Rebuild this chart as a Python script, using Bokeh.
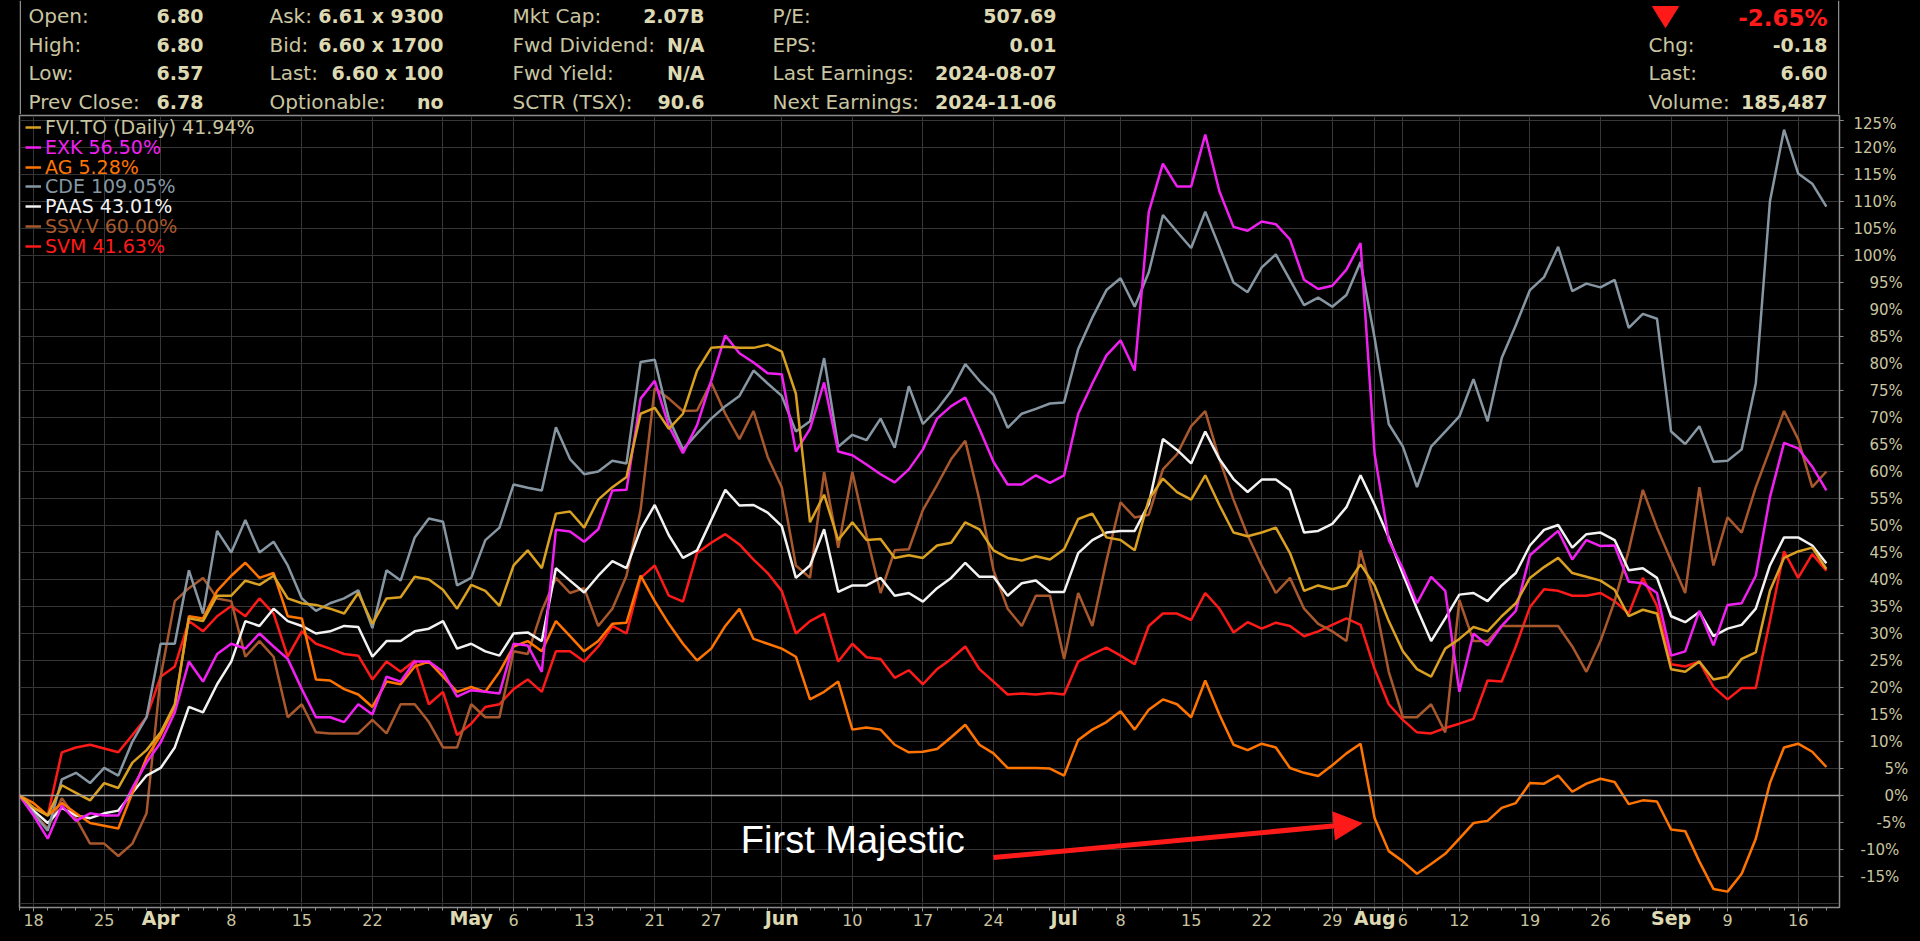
from bokeh.plotting import figure
from bokeh.layouts import column
from bokeh.models import (Range1d, LinearAxis, FixedTicker, Span, Label, Legend, LegendItem,
                          Arrow, NormalHead, GlobalInlineStyleSheet)
from bokeh.core.properties import value
from bokeh.embed import file_html
from bokeh.resources import INLINE

# ---------------- data (trading-day index 0 = Mar 15, 2024 ... 128 = Sep 18, 2024) -------------
day_index = list(range(129))

fvi = [0, -2.3, -3.7, 1.9, 0.5, -0.9, 2.3, 1.4, 6.1, 8.4, 11.7, 16.9, 32.8, 32.3, 37.0, 37.0, 39.8, 39.0,
       40.7, 36.5, 35.6, 35.3, 34.6, 33.7, 37.5, 31.8, 36.5, 36.7, 40.5, 40.0, 38.1, 34.6, 39.0, 37.9,
       35.1, 42.6, 45.4, 42.1, 52.2, 52.6, 49.6, 54.8, 57.1, 59.0, 70.7, 71.8, 67.9, 70.7, 78.7, 82.9,
       83.1, 82.9, 82.9, 83.5, 82.2, 74.4, 50.6, 55.7, 47.3, 50.6, 47.3, 47.5, 44.0, 44.5, 44.0, 46.3,
       46.8, 50.6, 49.3, 45.4, 44.0, 43.5, 44.3, 43.7, 45.6, 51.2, 52.2, 47.8, 47.3, 45.4, 54.8, 58.7,
       56.2, 54.8, 59.3, 53.8, 48.7, 48.0, 48.7, 49.6, 44.9, 37.9, 38.9, 38.2, 38.9, 42.8, 38.9, 32.3,
       26.7, 23.4, 22.0, 27.2, 29.0, 31.2, 30.4, 33.2, 35.6, 40.3, 42.3, 44.0, 41.2, 40.5, 39.8, 38.1,
       33.2, 34.4, 33.7, 23.4, 22.9, 24.8, 21.5, 22.0, 25.3, 26.5, 37.9, 44.0, 45.2, 45.9, 41.94]

exk = [0, -3.7, -8.0, -1.9, -4.7, -3.3, -3.7, -3.7, 1.4, 6.1, 9.8, 15.4, 24.8, 21.1, 26.2, 28.1, 27.2,
       30.0, 27.6, 25.3, 19.7, 14.5, 14.5, 13.6, 16.9, 15.0, 22.0, 21.1, 24.8, 24.8, 22.9, 18.3, 19.5,
       19.2, 18.9, 28.1, 27.8, 22.9, 49.2, 48.9, 47.0, 49.3, 56.5, 56.6, 73.5, 76.8, 68.4, 63.4, 68.6,
       76.8, 85.2, 81.9, 80.2, 78.2, 78.0, 63.7, 67.9, 76.5, 63.7, 63.0, 61.3, 59.5, 58.0, 60.4, 64.1,
       69.8, 72.1, 73.7, 67.9, 61.8, 57.6, 57.6, 59.3, 57.9, 59.3, 70.7, 76.3, 81.5, 84.3, 78.7, 108.1,
       117.0, 112.8, 112.8, 122.4, 111.9, 105.3, 104.6, 106.3, 105.8, 103.0, 95.5, 93.8, 94.4, 97.4,
       102.3, 63.2, 47.3, 42.0, 35.6, 40.5, 37.9, 19.2, 30.0, 27.8, 31.4, 34.2, 44.5, 46.8, 49.0, 43.7,
       47.3, 46.2, 46.3, 39.6, 39.3, 37.5, 25.9, 26.7, 34.2, 27.8, 35.3, 35.6, 40.7, 55.2, 65.3, 64.3,
       60.9, 56.5]

ag = [0, -1.4, -3.7, -1.4, -3.3, -5.1, -5.6, -6.1, 0.5, 7.0, 11.2, 16.4, 33.2, 32.8, 37.9, 40.7, 43.1,
      40.3, 41.2, 33.2, 32.8, 21.5, 21.3, 19.7, 18.7, 16.4, 21.1, 20.6, 23.9, 24.8, 22.0, 19.2, 20.1,
      19.2, 22.9, 27.6, 28.6, 26.7, 32.3, 29.5, 26.7, 28.6, 31.8, 32.0, 40.7, 36.0, 31.8, 28.1, 25.0,
      27.2, 31.4, 34.6, 29.0, 28.1, 27.2, 25.7, 17.8, 19.2, 21.1, 12.2, 12.6, 12.2, 9.4, 8.0, 8.1, 8.6,
      10.8, 13.1, 9.4, 7.8, 5.1, 5.1, 5.1, 5.0, 3.7, 10.3, 12.2, 13.6, 15.6, 12.2, 15.9, 17.8, 16.9,
      14.5, 21.3, 15.0, 9.4, 8.4, 9.6, 8.9, 5.1, 4.2, 3.6, 5.6, 7.8, 9.6, -4.2, -10.3, -12.2, -14.5,
      -12.7, -10.8, -8.0, -5.1, -4.7, -2.3, -1.4, 2.3, 2.2, 3.7, 0.7, 2.2, 3.1, 2.5, -1.6, -0.9, -1.1,
      -6.3, -6.6, -12.2, -17.3, -17.8, -14.5, -8.0, 2.3, 8.9, 9.6, 8.1, 5.28]

cde = [0, -3.3, -6.5, 3.0, 4.2, 2.3, 5.1, 3.7, 10.0, 14.5, 28.1, 28.1, 41.7, 33.7, 49.0, 45.0, 51.0,
       45.0, 47.0, 42.6, 36.5, 34.2, 35.6, 36.5, 38.0, 31.0, 41.7, 39.8, 47.8, 51.3, 50.7, 38.9, 40.3,
       47.3, 49.6, 57.6, 57.0, 56.5, 68.2, 62.3, 59.5, 60.0, 62.0, 61.5, 80.3, 80.7, 69.8, 64.1, 67.0,
       69.8, 72.1, 74.0, 78.7, 76.3, 74.0, 67.4, 69.3, 81.0, 64.6, 66.8, 65.8, 69.8, 64.4, 75.8, 68.8,
       71.5, 74.9, 79.9, 76.8, 74.2, 68.1, 70.7, 71.6, 72.6, 72.8, 82.7, 88.5, 93.6, 95.8, 90.5, 96.9,
       107.5, 104.4, 101.4, 108.1, 101.6, 95.0, 93.2, 97.8, 100.2, 95.5, 90.8, 92.2, 90.5, 92.7, 98.8,
       84.7, 68.8, 64.6, 57.1, 64.6, 67.4, 70.2, 77.1, 69.3, 81.0, 87.1, 93.6, 96.0, 101.6, 93.4, 94.8,
       94.1, 95.5, 86.6, 89.2, 88.3, 67.4, 65.1, 68.4, 61.8, 62.0, 64.1, 76.3, 110.0, 123.3, 115.2,
       113.3, 109.05]

paas = [0, -2.8, -5.1, -2.3, -3.7, -4.2, -3.3, -2.8, 0.5, 3.7, 5.1, 8.9, 16.4, 15.4, 20.6, 24.8, 32.3,
        31.4, 34.6, 32.3, 31.4, 30.0, 30.4, 31.4, 31.2, 25.7, 28.6, 28.6, 30.4, 30.9, 32.3, 27.2, 28.1,
        26.7, 25.9, 30.0, 30.2, 28.6, 42.1, 39.8, 37.6, 40.7, 43.4, 42.1, 49.3, 53.8, 48.2, 44.0, 45.4,
        51.0, 56.6, 53.7, 53.8, 52.4, 49.9, 40.3, 42.6, 49.3, 37.7, 38.9, 38.9, 40.3, 37.0, 37.5, 35.9,
        38.4, 40.3, 43.1, 40.5, 40.5, 37.0, 39.3, 39.8, 37.7, 37.7, 44.9, 47.3, 48.7, 49.0, 49.0, 54.0,
        66.0, 64.0, 61.5, 67.4, 62.3, 58.6, 56.2, 58.5, 58.5, 56.6, 48.7, 49.0, 50.3, 53.4, 59.3, 53.8,
        47.8, 41.0, 34.6, 28.6, 32.8, 37.2, 37.5, 36.0, 38.9, 41.2, 46.3, 49.2, 50.1, 45.9, 48.4, 48.7,
        47.3, 41.7, 42.1, 40.3, 33.2, 32.1, 34.0, 29.5, 30.9, 31.6, 34.6, 42.6, 47.8, 47.8, 46.3, 43.01]

ssv = [0, -3.3, -6.1, -0.5, -4.2, -8.9, -8.9, -11.2, -8.9, -3.3, 22.0, 36.0, 38.4, 40.3, 36.5, 36.0,
       25.7, 28.6, 25.7, 14.5, 16.9, 11.7, 11.5, 11.5, 11.5, 14.0, 11.5, 16.9, 16.9, 13.6, 8.9, 8.9,
       16.9, 14.5, 14.5, 26.7, 26.2, 34.2, 40.3, 37.5, 38.4, 31.4, 34.6, 40.7, 52.9, 75.4, 73.5, 71.2,
       71.3, 76.5, 70.7, 66.0, 71.2, 62.7, 57.1, 42.6, 40.3, 59.9, 45.9, 59.9, 48.2, 37.5, 45.4, 45.6,
       52.9, 57.5, 62.3, 65.7, 54.8, 41.7, 34.6, 31.4, 37.0, 37.0, 25.3, 37.5, 31.4, 43.5, 54.3, 51.5,
       52.0, 60.4, 63.2, 68.4, 71.2, 62.3, 54.8, 48.2, 42.6, 37.5, 40.3, 34.6, 31.8, 30.4, 28.6, 45.4,
       36.0, 22.9, 14.5, 14.5, 16.9, 11.7, 36.2, 28.6, 28.6, 31.4, 31.4, 31.4, 31.4, 31.4, 27.6, 22.9,
       28.6, 36.0, 45.4, 56.6, 49.6, 43.5, 37.5, 57.1, 42.6, 51.5, 48.7, 57.1, 64.1, 71.2, 66.0, 57.1,
       60.0]

svm = [0, -2.3, -3.7, 8.0, 8.9, 9.4, 8.7, 8.0, 11.2, 14.5, 22.0, 23.9, 32.3, 30.4, 33.2, 35.1, 33.2,
       36.5, 33.7, 25.7, 30.4, 28.1, 27.2, 26.2, 25.9, 21.5, 24.8, 22.9, 25.0, 16.9, 19.2, 11.2, 13.3,
       16.4, 16.9, 19.7, 21.5, 19.2, 26.7, 26.7, 24.8, 27.6, 31.4, 30.0, 40.3, 42.6, 37.0, 35.9, 44.9,
       46.8, 48.4, 46.5, 43.7, 41.2, 37.9, 30.0, 32.3, 33.7, 24.8, 28.1, 25.6, 25.3, 21.8, 23.2, 20.6,
       23.4, 25.3, 27.6, 23.4, 21.1, 18.7, 18.9, 18.7, 19.0, 18.7, 24.8, 26.2, 27.4, 25.9, 24.3, 31.4,
       33.7, 33.7, 32.5, 37.5, 34.6, 30.2, 32.1, 30.9, 32.0, 31.4, 29.5, 30.4, 31.6, 32.8, 31.6, 23.4,
       16.9, 14.0, 11.7, 11.5, 12.5, 13.3, 14.2, 21.3, 21.1, 27.6, 34.9, 38.2, 37.9, 37.0, 37.0, 37.5,
       36.0, 33.7, 40.3, 35.1, 24.3, 23.9, 24.8, 20.1, 17.8, 19.9, 19.9, 32.3, 45.2, 40.3, 44.7, 41.63]

series_names = ["FVI.TO (Daily)", "EXK", "AG", "CDE", "PAAS", "SSV.V", "SVM"]
series_values = [fvi, exk, ag, cde, paas, ssv, svm]
series_final = ["41.94%", "56.50%", "5.28%", "109.05%", "43.01%", "60.00%", "41.63%"]

# x-axis: day ticks and month ticks (trading-day indices)
day_ticks = [1, 6, 15, 20, 25, 35, 40, 45, 49, 59, 64, 69, 78, 83, 88, 93, 98, 102, 107, 112, 121, 126]
day_labels = ["18", "25", "8", "15", "22", "6", "13", "21", "27", "10", "17", "24", "8", "15", "22",
              "29", "6", "12", "19", "26", "9", "16"]
month_ticks = [10, 32, 54, 74, 96, 117]
month_labels = ["Apr", "May", "Jun", "Jul", "Aug", "Sep"]
grid_only_ticks = [30]

y_ticks = list(range(-15, 130, 5))

# header quote panel
header_labels = [["Open:", "High:", "Low:", "Prev Close:"],
                 ["Ask:", "Bid:", "Last:", "Optionable:"],
                 ["Mkt Cap:", "Fwd Dividend:", "Fwd Yield:", "SCTR (TSX):"],
                 ["P/E:", "EPS:", "Last Earnings:", "Next Earnings:"]]
header_values = [["6.80", "6.80", "6.57", "6.78"],
                 ["6.61 x 9300", "6.60 x 1700", "6.60 x 100", "no"],
                 ["2.07B", "N/A", "N/A", "90.6"],
                 ["507.69", "0.01", "2024-08-07", "2024-11-06"]]
right_labels = ["Chg:", "Last:", "Volume:"]
right_values = ["-0.18", "6.60", "185,487"]
pct_change = "-2.65%"
annotation_text = "First Majestic"

# ---------------- styling / layout ----------------
BG = "#000000"
GRID = "#363636"
FRAME = "#8c8c8c"
TXT = "#c9c5a0"
TXT_B = "#ddd9b2"
RED = "#ff1a1a"
line_colors = ["#d9a021", "#f020f0", "#ff7400", "#8696a2", "#f2f2f2", "#a8582c", "#ff1a1a"]
legend_text_colors = ["#c9c5a0", "#f020f0", "#ff7400", "#8696a2", "#f2f2f2", "#a8582c", "#ff1a1a"]

W = 1920
HDR_H = 114
MAIN_H = 941 - HDR_H
FRAME_LEFT, FRAME_RIGHT = 19, 1839          # page x of frame edges
FRAME_TOP, FRAME_BOTTOM = 115, 907          # page y of frame edges
XMAX = 128.93
YMIN, YMAX = -20.74, 125.93

# ---------------- header figure ----------------
hdr = figure(width=W, height=HDR_H, x_range=Range1d(FRAME_LEFT, FRAME_RIGHT),
             y_range=Range1d(HDR_H, 0), x_axis_type=None, y_axis_type=None,
             output_backend="svg", toolbar_location=None,
             min_border_left=FRAME_LEFT, min_border_right=W - FRAME_RIGHT,
             min_border_top=0, min_border_bottom=0,
             background_fill_color=BG, border_fill_color=BG, outline_line_color=None)

row_mid = [15.0, 44.0, 72.5, 101.0]
col_label_x = [28, 269, 512, 772]
col_value_x = [203, 443, 704, 1056]
HFONT = value("DejaVu Sans")
for c in range(4):
    hdr.text(x=[col_label_x[c]] * 4, y=row_mid, text=header_labels[c], text_font=HFONT,
             text_font_size="20px", text_color=TXT, text_align="left", text_baseline="middle")
    hdr.text(x=[col_value_x[c]] * 4, y=row_mid, text=header_values[c], text_font=HFONT,
             text_font_size="19px", text_font_style="bold", text_color=TXT_B,
             text_align="right", text_baseline="middle")
hdr.text(x=[1648] * 3, y=row_mid[1:], text=right_labels, text_font=HFONT, text_font_size="20px",
         text_color=TXT, text_align="left", text_baseline="middle")
hdr.text(x=[1827] * 3, y=row_mid[1:], text=right_values, text_font=HFONT, text_font_size="19px",
         text_font_style="bold", text_color=TXT_B, text_align="right", text_baseline="middle")
hdr.text(x=[1827], y=[17.0], text=[pct_change], text_font=HFONT, text_font_size="23px",
         text_font_style="bold", text_color=RED, text_align="right", text_baseline="middle")
hdr.patch(x=[1652, 1678, 1665], y=[6, 6, 27], fill_color=RED, line_color=RED)
hdr.add_layout(Span(location=FRAME_LEFT + 0.75, dimension="height", line_color=FRAME, line_width=1.5))
hdr.add_layout(Span(location=FRAME_RIGHT - 0.75, dimension="height", line_color=FRAME, line_width=1.5))

# ---------------- main chart ----------------
MT = FRAME_TOP - HDR_H
MB = 941 - FRAME_BOTTOM
p = figure(width=W, height=MAIN_H, x_range=Range1d(0, XMAX), y_range=Range1d(YMIN, YMAX),
           output_backend="svg", toolbar_location=None, y_axis_location="right",
           min_border_left=FRAME_LEFT, min_border_right=W - FRAME_RIGHT,
           min_border_top=MT, min_border_bottom=MB,
           background_fill_color=BG, border_fill_color=BG,
           outline_line_color=FRAME, outline_line_width=1.5)
p.stylesheets = [GlobalInlineStyleSheet(css="html, body { background-color: #000000; }")]

# grids
p.xgrid.ticker = FixedTicker(ticks=sorted(day_ticks + month_ticks + grid_only_ticks))
p.ygrid.ticker = FixedTicker(ticks=list(range(-20, 130, 5)))
for g in (p.xgrid, p.ygrid):
    g.grid_line_color = GRID
    g.grid_line_width = 1

# x axis (days)
xa = p.xaxis[0]
xa.ticker = FixedTicker(ticks=day_ticks, minor_ticks=day_index)
xa.major_label_overrides = {t: s for t, s in zip(day_ticks, day_labels)}
xa.axis_line_color = FRAME
xa.major_tick_line_color = FRAME
xa.minor_tick_line_color = FRAME
xa.major_tick_out = 4
xa.major_tick_in = 0
xa.minor_tick_out = 3
xa.minor_tick_in = 0
xa.major_label_standoff = 2
xa.major_label_text_font = "DejaVu Sans"
xa.major_label_text_font_size = "16px"
xa.major_label_text_color = TXT
DAY_AXIS_SIZE = 25   # approx. size Bokeh gives the day axis (tick 4 + standoff 2 + label ~19)

# x axis (months, bold) stacked below, pulled back up onto the same row
ma = LinearAxis(ticker=FixedTicker(ticks=month_ticks),
                major_label_overrides={t: s for t, s in zip(month_ticks, month_labels)},
                axis_line_color=None, major_tick_line_color=None, minor_tick_line_color=None,
                major_tick_out=0, major_tick_in=0, minor_tick_out=0, minor_tick_in=0,
                major_label_standoff=3 - DAY_AXIS_SIZE, major_label_text_font="DejaVu Sans",
                major_label_text_font_size="19px", major_label_text_font_style="bold",
                major_label_text_color=TXT_B)
p.add_layout(ma, "below")

# y axes on the right: label groups by width, stacked and pulled back so labels are right-aligned
def pct(v):
    return f"{v}%"

ya = p.yaxis[0]
grp_a = [v for v in y_ticks if v >= 100]
ya.ticker = FixedTicker(ticks=grp_a, minor_ticks=y_ticks)
ya.major_label_overrides = {v: pct(v) for v in grp_a}
ya.axis_line_color = FRAME
ya.major_tick_line_color = FRAME
ya.minor_tick_line_color = FRAME
ya.major_tick_out = 4
ya.major_tick_in = 0
ya.minor_tick_out = 4
ya.minor_tick_in = 0
ya.major_label_standoff = 10
ya.major_label_text_font = "DejaVu Sans"
ya.major_label_text_font_size = "15px"
ya.major_label_text_color = TXT
YA_SIZE = 57   # tick 4 + standoff 10 + "125%" width (~43)

other_groups = [
    ([v for v in y_ticks if v <= -10], 18),
    ([v for v in y_ticks if 10 <= v <= 95], 24),
    ([v for v in y_ticks if v == -5], 28),
    ([v for v in y_ticks if v in (0, 5)], 33),
]
for ticks, label_offset in other_groups:
    ax = LinearAxis(ticker=FixedTicker(ticks=ticks), axis_line_color=None,
                    major_tick_line_color=None, minor_tick_line_color=None,
                    major_tick_out=0, major_tick_in=0, minor_tick_out=0, minor_tick_in=0,
                    major_label_standoff=label_offset - YA_SIZE,
                    major_label_overrides={v: pct(v) for v in ticks},
                    major_label_text_font="DejaVu Sans", major_label_text_font_size="15px",
                    major_label_text_color=TXT)
    p.add_layout(ax, "right")

# zero line
p.add_layout(Span(location=0, dimension="width", line_color="#a3a3a3", line_width=1.5))

# series lines (first series drawn last so it sits on top)
renderers = [None] * len(series_values)
for i in reversed(range(len(series_values))):
    renderers[i] = p.line(day_index, series_values[i], line_color=line_colors[i], line_width=2.5)

# per-series legend rows (each with its own text colour)
LEG_ROW0 = 127.0   # page y of first row centre
LEG_DY = 19.8
LEG_H = 22
for i, (name, fin) in enumerate(zip(series_names, series_final)):
    row_centre = LEG_ROW0 + LEG_DY * i
    leg = Legend(items=[LegendItem(label=f"{name} {fin}", renderers=[renderers[i]])],
                 location=(6, FRAME_BOTTOM - row_centre - LEG_H / 2),
                 background_fill_alpha=0, border_line_alpha=0, padding=0, margin=0, spacing=0,
                 glyph_width=16, glyph_height=LEG_H, label_height=LEG_H, label_standoff=4,
                 label_text_font="DejaVu Sans", label_text_font_size="19px",
                 label_text_color=legend_text_colors[i])
    p.add_layout(leg)

# "First Majestic" annotation and arrow
p.add_layout(Label(x=51.1, y=-8.3, text=annotation_text, text_color="#ffffff",
                   text_font="Liberation Sans", text_font_size="38px", text_baseline="middle"))
p.add_layout(Arrow(end=NormalHead(size=28, fill_color=RED, line_color=RED, line_width=1),
                   x_start=69.0, y_start=-11.5, x_end=95.1, y_end=-5.15,
                   line_color=RED, line_width=5))

layout = column(hdr, p, spacing=0)
open("out.html", "w").write(file_html(layout, INLINE))
